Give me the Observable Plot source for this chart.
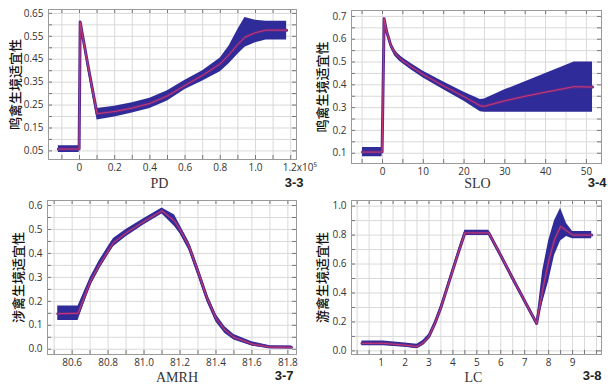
<!DOCTYPE html>
<html><head><meta charset="utf-8">
<script src="https://cdn.jsdelivr.net/npm/d3@7"></script>
<script src="https://cdn.jsdelivr.net/npm/@observablehq/plot@0.6"></script>
<style>
body{margin:0;background:#fff}
#wrap{position:relative;width:608px;height:390px;overflow:hidden;background:#fff}
.p{position:absolute}
</style></head><body><div id="wrap"></div>
<script>
// ---- Panel 3-3 : PD (x in units of 10^5) ----
const pdX    = [-0.12, -0.002, 0.004, 0.05, 0.1, 0.2, 0.3, 0.4, 0.5, 0.6, 0.7, 0.8, 0.85, 0.9, 0.94, 1.0, 1.06, 1.177];
const pdMean = [0.058, 0.058, 0.612, 0.415, 0.212, 0.222, 0.237, 0.257, 0.29, 0.336, 0.38, 0.43, 0.47, 0.515, 0.546, 0.566, 0.577, 0.577];
const pdLo   = [0.043, 0.043, 0.606, 0.395, 0.185, 0.198, 0.215, 0.235, 0.268, 0.318, 0.355, 0.395, 0.43, 0.472, 0.502, 0.522, 0.534, 0.534];
const pdHi   = [0.073, 0.073, 0.618, 0.435, 0.235, 0.245, 0.26, 0.28, 0.312, 0.358, 0.40, 0.455, 0.508, 0.58, 0.632, 0.62, 0.616, 0.616];

// ---- Panel 3-4 : SLO ----
const sloX    = [-4.9, -0.1, 0.4, 1, 2, 3, 4, 5, 7, 10, 15, 20, 24, 25, 30, 35, 40, 47, 51.5];
const sloMean = [0.105, 0.105, 0.69, 0.635, 0.575, 0.54, 0.52, 0.505, 0.48, 0.445, 0.395, 0.348, 0.308, 0.306, 0.33, 0.35, 0.368, 0.392, 0.39];
const sloLo   = [0.085, 0.085, 0.684, 0.625, 0.563, 0.527, 0.507, 0.492, 0.466, 0.43, 0.378, 0.328, 0.282, 0.28, 0.28, 0.28, 0.28, 0.28, 0.28];
const sloHi   = [0.125, 0.125, 0.696, 0.645, 0.587, 0.553, 0.533, 0.518, 0.494, 0.46, 0.412, 0.368, 0.336, 0.338, 0.378, 0.414, 0.45, 0.5, 0.5];

// ---- Panel 3-7 : AMRH ----
const amX    = [80.52, 80.633, 80.7, 80.75, 80.8, 80.83, 80.9, 81.0, 81.1, 81.17, 81.2, 81.25, 81.3, 81.35, 81.4, 81.45, 81.5, 81.6, 81.7, 81.82];
const amMean = [0.148, 0.15, 0.28, 0.35, 0.41, 0.445, 0.485, 0.533, 0.578, 0.535, 0.5, 0.43, 0.325, 0.215, 0.13, 0.08, 0.05, 0.022, 0.009, 0.008];
const amLo   = [0.12, 0.12, 0.262, 0.332, 0.393, 0.428, 0.47, 0.52, 0.565, 0.512, 0.482, 0.412, 0.307, 0.198, 0.114, 0.066, 0.039, 0.013, 0.003, 0.003];
const amHi   = [0.18, 0.18, 0.297, 0.368, 0.428, 0.462, 0.5, 0.546, 0.59, 0.56, 0.518, 0.448, 0.343, 0.232, 0.146, 0.094, 0.061, 0.031, 0.015, 0.013];

// ---- Panel 3-8 : LC ----
const lcX    = [0.2, 1.1, 2.0, 2.5, 2.75, 3, 3.25, 3.5, 3.75, 4, 4.25, 4.5, 5.5, 6, 6.5, 7, 7.5, 7.75, 8, 8.25, 8.5, 8.75, 9, 9.8];
const lcMean = [0.052, 0.052, 0.04, 0.03, 0.055, 0.1, 0.19, 0.3, 0.43, 0.56, 0.69, 0.815, 0.815, 0.66, 0.5, 0.345, 0.19, 0.42, 0.62, 0.77, 0.86, 0.83, 0.80, 0.80];
const lcLo   = [0.035, 0.035, 0.025, 0.014, 0.038, 0.083, 0.172, 0.282, 0.412, 0.542, 0.672, 0.797, 0.797, 0.642, 0.482, 0.327, 0.174, 0.33, 0.48, 0.66, 0.76, 0.79, 0.775, 0.775];
const lcHi   = [0.069, 0.069, 0.055, 0.046, 0.072, 0.117, 0.208, 0.318, 0.448, 0.578, 0.708, 0.833, 0.833, 0.678, 0.518, 0.363, 0.206, 0.55, 0.76, 0.90, 0.985, 0.88, 0.825, 0.825];

// ---- tick values / labels ----
const pdXTicks  = [0, 0.2, 0.4, 0.6, 0.8, 1.0];
const pdXExtra  = [1.2];
const pdXExtraLabel = "1.2x10\u2075";
const pdXGrid   = [-0.1, 0, 0.1, 0.2, 0.3, 0.4, 0.5, 0.6, 0.7, 0.8, 0.9, 1.0, 1.1, 1.2];
const pdYTicks  = [0.05, 0.15, 0.25, 0.35, 0.45, 0.55, 0.65];
const pdYGrid   = [0.05, 0.1, 0.15, 0.2, 0.25, 0.3, 0.35, 0.4, 0.45, 0.5, 0.55, 0.6, 0.65];

const sloXTicks = [0, 10, 20, 30, 40, 50];
const sloXGrid  = [-5, 0, 5, 10, 15, 20, 25, 30, 35, 40, 45, 50];
const sloYTicks = [0.1, 0.2, 0.3, 0.4, 0.5, 0.6, 0.7];
const sloYGrid  = [0.1, 0.15, 0.2, 0.25, 0.3, 0.35, 0.4, 0.45, 0.5, 0.55, 0.6, 0.65, 0.7];

const amXTicks  = [80.6, 80.8, 81.0, 81.2, 81.4, 81.6, 81.8];
const amXGrid   = [80.5, 80.6, 80.7, 80.8, 80.9, 81.0, 81.1, 81.2, 81.3, 81.4, 81.5, 81.6, 81.7, 81.8];
const amYTicks  = [0, 0.1, 0.2, 0.3, 0.4, 0.5, 0.6];
const amYGrid   = [0, 0.05, 0.1, 0.15, 0.2, 0.25, 0.3, 0.35, 0.4, 0.45, 0.5, 0.55, 0.6];

const lcXTicks  = [1, 2, 3, 4, 5, 6, 7, 8, 9];
const lcXGrid   = [0, 0.5, 1, 1.5, 2, 2.5, 3, 3.5, 4, 4.5, 5, 5.5, 6, 6.5, 7, 7.5, 8, 8.5, 9, 9.5, 10];
const lcYTicks  = [0, 0.2, 0.4, 0.6, 0.8, 1.0];
const lcYGrid   = [0, 0.1, 0.2, 0.3, 0.4, 0.5, 0.6, 0.7, 0.8, 0.9, 1.0];

const BAND = "#2f2b98";
const HALO = "#5a2b8c";
const LINE = "#e2386e";
const W = 304, H = 195;

function panel(o) {
  const rows = o.x.map((x, i) => ({x, m: o.mean[i], lo: o.lo[i], hi: o.hi[i]}));
  const fh = H - o.mt - o.mb, fw = W - o.ml - o.mr;
  const marks = [
    Plot.ruleX(o.xGrid, {stroke: "#d9d9d9", strokeWidth: 1}),
    Plot.ruleY(o.yGrid, {stroke: "#d9d9d9", strokeWidth: 1}),
    Plot.areaY(rows, {x: "x", y1: "lo", y2: "hi", fill: BAND}),
    Plot.line(rows, {x: "x", y: "m", stroke: HALO, strokeWidth: 3}),
    Plot.line(rows, {x: "x", y: "m", stroke: LINE, strokeWidth: 1, strokeOpacity: 0.85}),
    Plot.tickX(o.xGrid, {insetTop: fh - 4, stroke: "#777"}),
    Plot.tickX(o.xGrid, {insetBottom: fh - 4, stroke: "#777"}),
    Plot.tickY(o.yGrid, {insetRight: fw - 4, stroke: "#777"}),
    Plot.tickY(o.yGrid, {insetLeft: fw - 4, stroke: "#777"}),
    Plot.frame({stroke: "#9a9a9a"}),
    Plot.text([o.xTitle], {frameAnchor: "bottom", lineAnchor: "middle", textAnchor: "middle", dx: o.xtDx, dy: o.xtDy, fontFamily: "'Liberation Serif', serif", fontSize: 14, fill: "#333"}),
    Plot.text([o.yTitle], {frameAnchor: "left", lineAnchor: "middle", textAnchor: "middle", rotate: -90, dx: o.ytDx, fontFamily: "'Noto Sans CJK SC', sans-serif", fontSize: 13, fontWeight: 500, fill: "#111"}),
    Plot.text([o.num], {frameAnchor: "bottom-right", lineAnchor: "middle", textAnchor: "end", dx: o.nDx, dy: o.nDy, fontFamily: "'Liberation Sans', Arial, sans-serif", fontWeight: "bold", fontSize: 13, fill: "#222"})
  ];
  if (o.extra) marks.push(Plot.text(o.extra, {x: d => d, text: () => o.extraLabel, frameAnchor: "bottom", lineAnchor: "middle", textAnchor: "start", dx: -8, dy: 8, fontSize: 10, fill: "#333"}));
  const p = Plot.plot({
    width: W, height: H,
    marginLeft: o.ml, marginRight: o.mr, marginTop: o.mt, marginBottom: o.mb,
    style: {fontFamily: "'Open Sans', sans-serif", fontSize: "10px", color: "#333", background: "transparent", overflow: "visible"},
    x: {domain: o.xDomain, ticks: o.xTicks, tickFormat: o.xFmt, tickSize: 0, tickPadding: 4, label: null},
    y: {domain: o.yDomain, ticks: o.yTicks, tickFormat: o.yFmt, tickSize: 0, tickPadding: 5, label: null},
    marks
  });
  const d = document.createElement("div");
  d.className = "p";
  d.style.left = o.left + "px";
  d.style.top = o.top + "px";
  d.appendChild(p);
  document.getElementById("wrap").appendChild(d);
}

panel({left: 304, top: 0, x: sloX, mean: sloMean, lo: sloLo, hi: sloHi,
  ml: 47, mr: 7, mt: 10, mb: 32, xDomain: [-7.6, 53.7], yDomain: [0.055, 0.726],
  xTicks: sloXTicks, xGrid: sloXGrid, yTicks: sloYTicks, yGrid: sloYGrid,
  xFmt: d => String(d), yFmt: d3.format(".1f"),
  xTitle: "SLO", xtDx: 1, xtDy: 20, yTitle: "鸣禽生境适宜性", ytDx: -29, num: "3-4", nDx: 5, nDy: 19});

panel({left: 0, top: 0, x: pdX, mean: pdMean, lo: pdLo, hi: pdHi,
  ml: 48, mr: 8, mt: 9, mb: 36, xDomain: [-0.176, 1.233], yDomain: [0.0125, 0.667],
  xTicks: pdXTicks, xGrid: pdXGrid, yTicks: pdYTicks, yGrid: pdYGrid,
  xFmt: d => d === 0 ? "0" : d.toFixed(1), yFmt: d3.format(".2f"),
  extra: pdXExtra, extraLabel: pdXExtraLabel,
  xTitle: "PD", xtDx: -13, xtDy: 24, yTitle: "鸣禽生境适宜性", ytDx: -33, num: "3-3", nDx: 7, nDy: 23});

panel({left: 0, top: 195, x: amX, mean: amMean, lo: amLo, hi: amHi,
  ml: 47, mr: 8, mt: 5, mb: 36, xDomain: [80.463, 81.848], yDomain: [-0.022, 0.621],
  xTicks: amXTicks, xGrid: amXGrid, yTicks: amYTicks, yGrid: amYGrid,
  xFmt: d => d.toFixed(1), yFmt: d3.format(".1f"),
  xTitle: "AMRH", xtDx: 5, xtDy: 23, yTitle: "涉禽生境适宜性", ytDx: -29, num: "3-7", nDx: -3, nDy: 21});

panel({left: 304, top: 195, x: lcX, mean: lcMean, lo: lcLo, hi: lcHi,
  ml: 47, mr: 7, mt: 5, mb: 36, xDomain: [-0.237, 10.21], yDomain: [-0.025, 1.039],
  xTicks: lcXTicks, xGrid: lcXGrid, yTicks: lcYTicks, yGrid: lcYGrid,
  xFmt: d => String(d), yFmt: d3.format(".1f"),
  xTitle: "LC", xtDx: -3, xtDy: 23, yTitle: "游禽生境适宜性", ytDx: -29, num: "3-8", nDx: 0, nDy: 21});
</script></body></html>
